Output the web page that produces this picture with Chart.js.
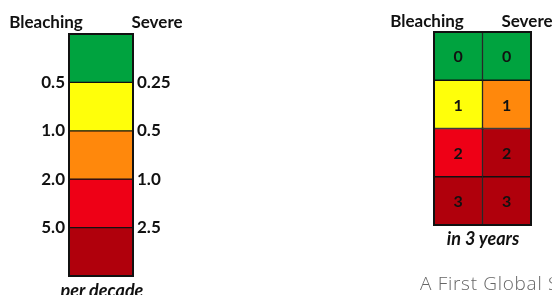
<!DOCTYPE html>
<html>
<head>
<meta charset="utf-8">
<script src="https://cdn.jsdelivr.net/npm/chart.js@4/dist/chart.umd.min.js"></script>
<style>
  html, body { margin: 0; padding: 0; background: #fff; }
  #wrap { position: relative; width: 552px; height: 295px; overflow: hidden; font-family: Lato, "Open Sans", sans-serif; }
  canvas { position: absolute; top: 0; }
  .lbl { position: absolute; font-weight: bold; font-size: 17px; line-height: 20px; color: #111; white-space: nowrap; transform: translateX(-50%); }
  .cap { font-style: italic; font-size: 18px; }
  .src { position: absolute; left: 420px; top: 273px; font-family: "Open Sans", sans-serif; font-weight: 300; font-size: 19px; line-height: 20px; letter-spacing: 0.7px; color: #666; white-space: nowrap; }
</style>
</head>
<body>
<div id="wrap">
  <canvas id="decade" width="200" height="295" style="left:0"></canvas>
  <canvas id="years" width="172" height="295" style="left:380px"></canvas>
  <div class="lbl" style="left:46px;top:12px">Bleaching</div>
  <div class="lbl" style="left:157px;top:12px">Severe</div>
  <div class="lbl cap" style="left:102px;top:280px">per decade</div>
  <div class="lbl" style="left:427px;top:11px">Bleaching</div>
  <div class="lbl" style="left:527px;top:11px">Severe</div>
  <div class="lbl cap" style="left:483px;top:228px">in 3 years</div>
  <div class="src">A First Global S</div>
</div>
<script>
// colour scale, top (lowest) to bottom (highest)
const levelColors = ["#00A33F", "#FFFF0A", "#FF880C", "#EE0016", "#B0000C"];

// per decade thresholds, at the boundaries from the top down
const bleachingPerDecade = ["0.5", "1.0", "2.0", "5.0"];
const severePerDecade = ["0.25", "0.5", "1.0", "2.5"];

// in 3 years: count shown in each cell, and colour level of each cell
const yearCounts = [0, 1, 2, 3];
const bleachingLevel = [0, 1, 3, 4];
const severeLevel = [0, 2, 4, 4];
const columns = ["Bleaching", "Severe"];

const tickFont = { family: "Lato, 'Open Sans', sans-serif", size: 17, weight: "bold" };

const frame = {
  id: "frame",
  afterDatasetsDraw(chart) {
    const a = chart.chartArea, ctx = chart.ctx;
    ctx.save();
    ctx.strokeStyle = "#111";
    ctx.lineWidth = 2;
    ctx.strokeRect(a.left, a.top, a.right - a.left, a.bottom - a.top);
    ctx.restore();
  }
};

const cellText = {
  id: "cellText",
  afterDatasetsDraw(chart) {
    const ctx = chart.ctx;
    ctx.save();
    ctx.font = "bold 16px Lato, 'Open Sans', sans-serif";
    ctx.fillStyle = "#111";
    ctx.textAlign = "center";
    ctx.textBaseline = "middle";
    chart.data.datasets.forEach((ds, i) => {
      chart.getDatasetMeta(i).data.forEach(bar => {
        ctx.fillText(String(ds.label), bar.x, (bar.y + bar.base) / 2 + 1);
      });
    });
    ctx.restore();
  }
};

new Chart(document.getElementById("decade"), {
  type: "bar",
  data: {
    labels: ["level"],
    datasets: levelColors.map((c, i) => ({
      label: "L" + i, data: [1], backgroundColor: c,
      borderColor: "#111", borderWidth: 1, borderSkipped: false,
      barPercentage: 1, categoryPercentage: 1, stack: "s"
    }))
  },
  options: {
    responsive: false, animation: false,
    layout: { padding: { top: 34, bottom: 19 } },
    plugins: { legend: { display: false }, tooltip: { enabled: false } },
    scales: {
      x: { display: false, stacked: true },
      y: {
        position: "left", stacked: true, reverse: true, min: 0, max: 5,
        grid: { display: false, drawTicks: false }, border: { display: false },
        afterFit: s => { s.width = 69; },
        afterBuildTicks: s => { s.ticks = [1, 2, 3, 4].map(v => ({ value: v })); },
        ticks: { padding: 4, color: "#111", font: tickFont, callback: v => bleachingPerDecade[v - 1] }
      },
      y2: {
        position: "right", reverse: true, min: 0, max: 5,
        grid: { display: false, drawTicks: false }, border: { display: false },
        afterFit: s => { s.width = 67; },
        afterBuildTicks: s => { s.ticks = [1, 2, 3, 4].map(v => ({ value: v })); },
        ticks: { padding: 4, color: "#111", font: tickFont, callback: v => severePerDecade[v - 1] }
      }
    }
  },
  plugins: [frame]
});

new Chart(document.getElementById("years"), {
  type: "bar",
  data: {
    labels: columns,
    datasets: yearCounts.map((n, r) => ({
      label: n, data: [1, 1],
      backgroundColor: [levelColors[bleachingLevel[r]], levelColors[severeLevel[r]]],
      borderColor: "#111", borderWidth: 1, borderSkipped: false,
      barPercentage: 1, categoryPercentage: 1, stack: "s"
    }))
  },
  options: {
    responsive: false, animation: false,
    layout: { padding: { left: 54, right: 21, top: 32, bottom: 70 } },
    plugins: { legend: { display: false }, tooltip: { enabled: false } },
    scales: {
      x: { display: false, stacked: true },
      y: { display: false, stacked: true, reverse: true, min: 0, max: 4 }
    }
  },
  plugins: [frame, cellText]
});
</script>
</body>
</html>
